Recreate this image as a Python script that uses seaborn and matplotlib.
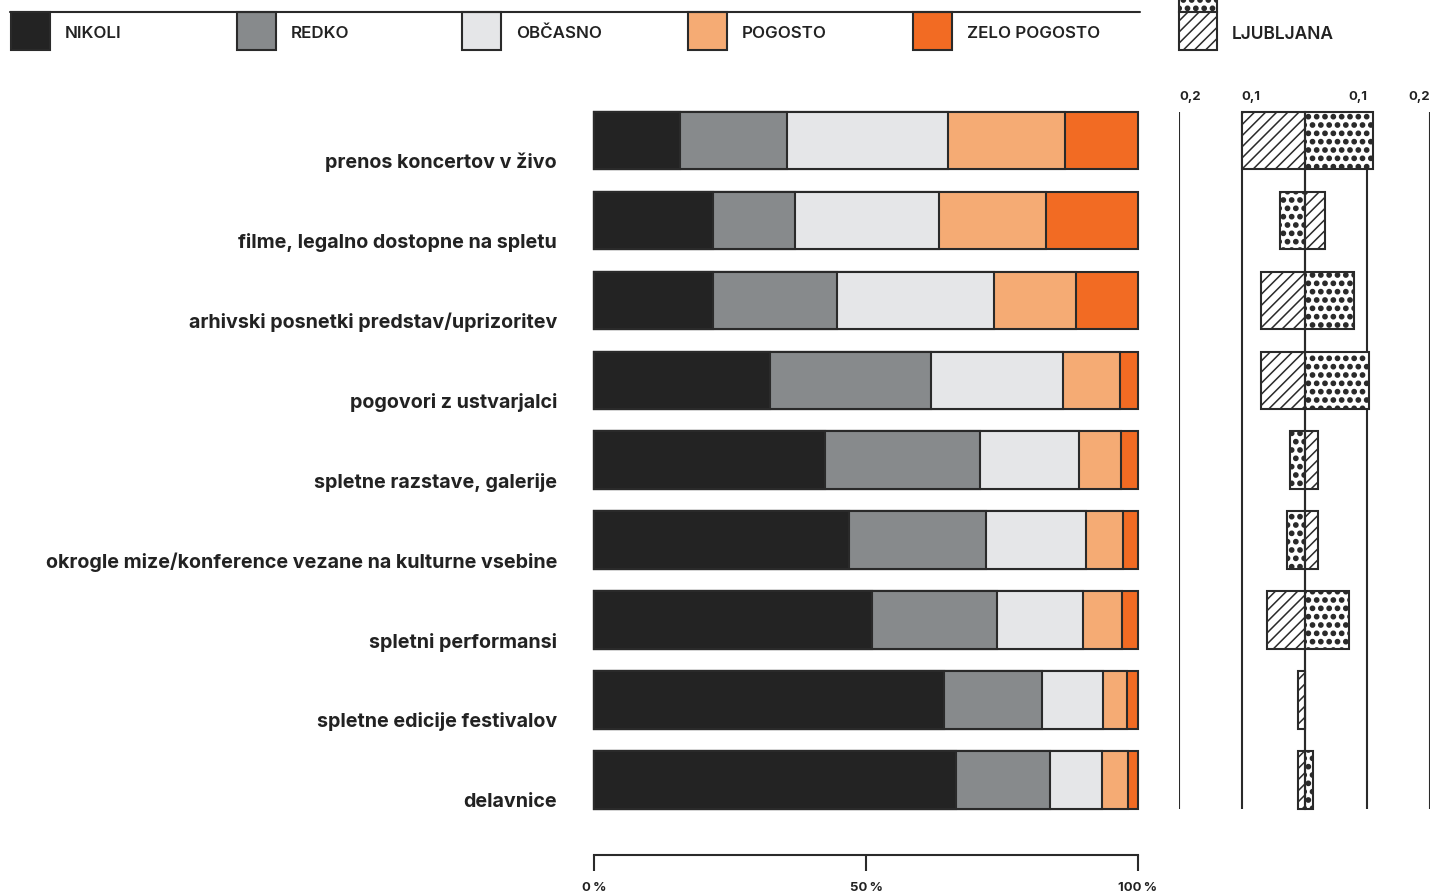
import numpy as np
import pandas as pd
import matplotlib
matplotlib.use("Agg")
import matplotlib.pyplot as plt
import matplotlib.hatch as mhatch
from matplotlib.patches import Rectangle
from matplotlib.lines import Line2D
import seaborn as sns

# ---------------- data ----------------
categories = [
    "prenos koncertov v živo",
    "filme, legalno dostopne na spletu",
    "arhivski posnetki predstav/uprizoritev",
    "pogovori z ustvarjalci",
    "spletne razstave, galerije",
    "okrogle mize/konference vezane na kulturne vsebine",
    "spletni performansi",
    "spletne edicije festivalov",
    "delavnice",
]
levels = ["NIKOLI", "REDKO", "OBČASNO", "POGOSTO", "ZELO POGOSTO"]
nikoli = [15.9, 21.8, 21.8, 32.3, 42.4, 46.9, 51.1, 64.4, 66.6]
redko = [19.6, 15.2, 22.9, 29.7, 28.5, 25.1, 22.9, 18.0, 17.3]
obcasno = [29.6, 26.4, 28.9, 24.3, 18.3, 18.4, 15.9, 11.1, 9.5]
pogosto = [21.4, 19.6, 15.0, 10.4, 7.7, 6.9, 7.2, 4.5, 4.8]
zelo_pogosto = [13.5, 17.0, 11.4, 3.3, 3.1, 2.7, 2.9, 2.0, 1.8]

# right panel: signed differences
ljubljana = [-0.099, 0.032, -0.069, -0.069, 0.021, 0.021, -0.059, -0.011, -0.011]
od_drugod = [0.109, -0.039, 0.079, 0.102, -0.023, -0.028, 0.071, 0.0, 0.013]
diff_ticks = [-0.2, -0.1, 0.1, 0.2]
diff_tick_labels = ["0,2", "0,1", "0,1", "0,2"]
grid_vals = [-0.2, -0.1, 0.0, 0.1, 0.2]

pct_ticks = [0, 50, 100]
pct_tick_labels = ["0\u202f%", "50\u202f%", "100\u202f%"]

# ---------------- style ----------------
colors = ["#232323", "#878a8c", "#e5e6e8", "#f5ab74", "#f26b23"]
EDGE = "#2a2a2a"
TXT = "#222222"

sns.set_theme(style="white")
plt.rcParams["font.family"] = ["Inter", "DejaVu Sans"]
plt.rcParams["hatch.linewidth"] = 1.1
plt.rcParams["hatch.color"] = EDGE
mhatch.SmallFilledCircles.size = 0.25

W, H = 1432, 895
fig = plt.figure(figsize=(W / 100, H / 100), dpi=100)


def fx(x):
    return x / W


def fy(y):
    return 1 - y / H


# axes geometry (pixels)
top_px, bottom_px = 113, 856
row0_c, row_step, bar_w = 141.5, 79.94, 0.72
y_top = (top_px - row0_c) / row_step
y_bot = (bottom_px - row0_c) / row_step

ax = fig.add_axes([fx(594), fy(bottom_px), (1138 - 594) / W, (bottom_px - top_px) / H])
ax2 = fig.add_axes([fx(1179), fy(bottom_px), (1430 - 1179) / W, (bottom_px - top_px) / H])

# ---------------- main stacked bars ----------------
df = pd.DataFrame(dict(zip(levels, [nikoli, redko, obcasno, pogosto, zelo_pogosto])))
cum = df[levels].cumsum(axis=1)
cum["kategorija"] = categories
for lvl, col in reversed(list(zip(levels, colors))):
    sns.barplot(data=cum, x=lvl, y="kategorija", color=col, saturation=1,
                width=bar_w, edgecolor=EDGE, linewidth=1.5, errorbar=None,
                orient="h", ax=ax)
for p in ax.patches:
    p.set_clip_on(False)

ax.set_xlim(0, 100)
ax.set_ylim(y_bot, y_top)
ax.set_xlabel("")
ax.set_ylabel("")
ax.set_yticks([])
for s in ["top", "left", "right"]:
    ax.spines[s].set_visible(False)
ax.spines["bottom"].set_color(EDGE)
ax.spines["bottom"].set_linewidth(1.5)
ax.set_xticks(pct_ticks)
ax.set_xticklabels(pct_tick_labels, fontsize=9.5, fontweight="bold", color=TXT)
ax.tick_params(axis="x", direction="out", length=11.5, width=1.5, color=EDGE,
               pad=7.5, bottom=True)

label_x = (557 - 594) / (1138 - 594)
for i, c in enumerate(categories):
    ax.text(label_x, i + 0.33, c, transform=ax.get_yaxis_transform(),
            ha="right", va="baseline", fontsize=14.2, fontweight="bold",
            color=TXT)

# ---------------- right diverging panel ----------------
ax2.vlines(grid_vals, y_top, len(categories) - 1 + bar_w / 2, color=EDGE,
           linewidth=1.5, zorder=0)
sns.barplot(x=od_drugod, y=categories, color="white", saturation=1, width=bar_w,
            edgecolor=EDGE, linewidth=1.5, hatch="..", errorbar=None,
            orient="h", ax=ax2, zorder=2)
sns.barplot(x=ljubljana, y=categories, color="white", saturation=1, width=bar_w,
            edgecolor=EDGE, linewidth=1.5, hatch="///", errorbar=None,
            orient="h", ax=ax2, zorder=2)
ax2.vlines([0.0], y_top, len(categories) - 1 + bar_w / 2, color=EDGE,
           linewidth=1.5, zorder=3)
for p in ax2.patches:
    p.set_clip_on(False)
ax2.set_xlim(-0.2, 0.2)
ax2.set_ylim(y_bot, y_top)
ax2.set_xlabel("")
ax2.set_ylabel("")
ax2.set_xticks([])
ax2.set_yticks([])
for s in ax2.spines.values():
    s.set_visible(False)
ax2.patch.set_alpha(0)

lab_y = (bottom_px - 97) / (bottom_px - top_px)
for v, t in zip(diff_ticks, diff_tick_labels):
    ax2.text(v, lab_y, t, transform=ax2.get_xaxis_transform(),
             ha="left" if v < 0 else "right", va="center",
             fontsize=9.5, fontweight="bold", color=TXT, clip_on=False)

# ---------------- legends ----------------
fig.add_artist(Line2D([fx(10), fx(1140)], [fy(13), fy(13)], transform=fig.transFigure,
                      color=EDGE, linewidth=1.5))
leg_x = [11, 237, 462, 688, 913]
for x0, lvl, col in zip(leg_x, levels, colors):
    fig.add_artist(Rectangle((fx(x0), fy(51)), 39 / W, 38 / H, transform=fig.transFigure,
                             facecolor=col, edgecolor=EDGE, linewidth=1.5))
    fig.text(fx(x0 + 54), fy(33.5), lvl, ha="left", va="center", fontsize=12.2,
             fontweight="semibold", color=TXT)

fig.add_artist(Rectangle((fx(1179), fy(13)), 38 / W, 38 / H, transform=fig.transFigure,
                         facecolor="white", edgecolor=EDGE, linewidth=1.5, hatch=".."))
fig.add_artist(Rectangle((fx(1179), fy(51)), 38 / W, 38 / H, transform=fig.transFigure,
                         facecolor="white", edgecolor=EDGE, linewidth=1.5, hatch="///"))
fig.text(fx(1232), fy(-5), "OD DRUGOD", ha="left", va="center", fontsize=12.5,
         fontweight="semibold", color=TXT)
fig.text(fx(1232), fy(34.5), "LJUBLJANA", ha="left", va="center", fontsize=12.5,
         fontweight="semibold", color=TXT)

fig.savefig("out.png", dpi=100, facecolor="white")
